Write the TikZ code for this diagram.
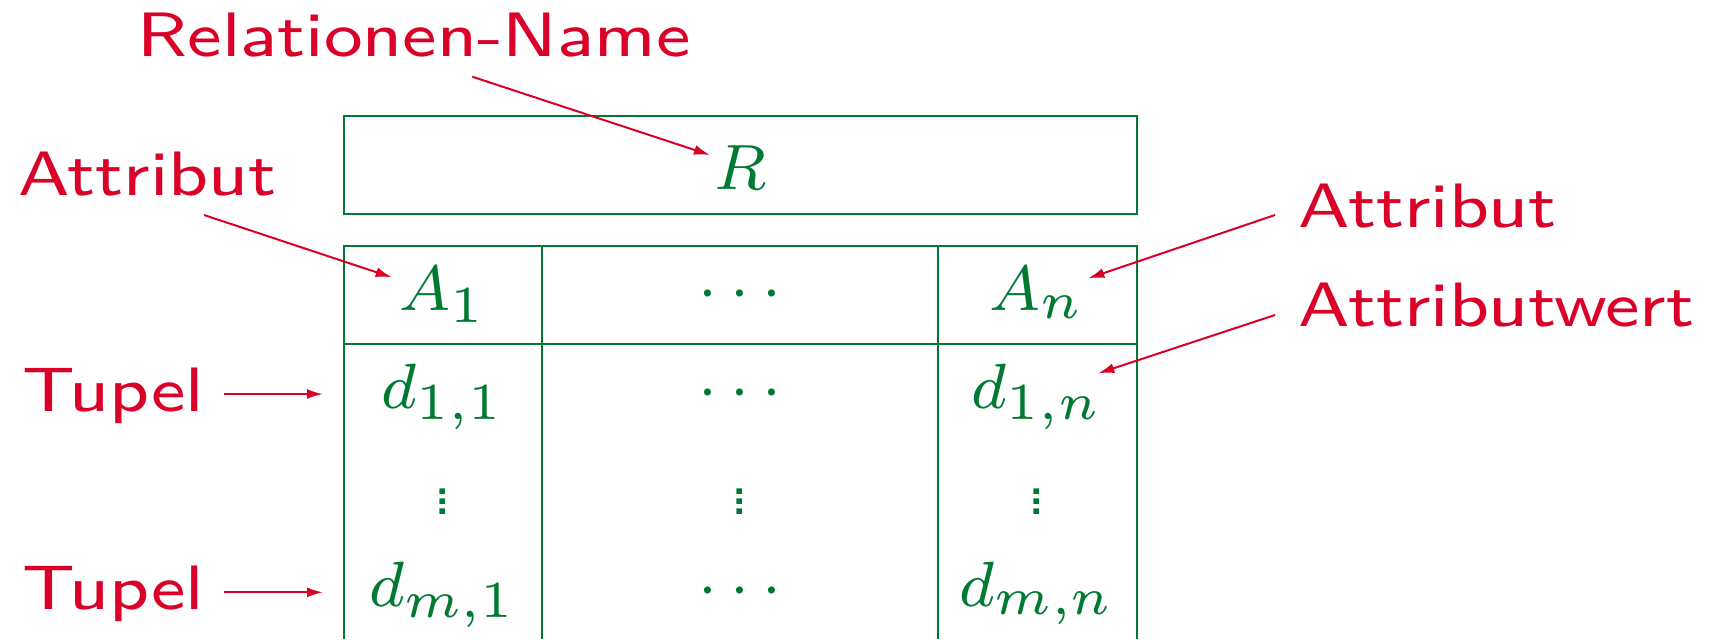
\RequirePackage{fix-cm}
\documentclass[tikz,border=0pt]{standalone}
\usetikzlibrary{arrows.meta}
\DeclareMathSizes{8}{8}{6.5}{5}
\definecolor{lblred}{RGB}{218,0,40}
\definecolor{tblgreen}{RGB}{0,122,51}
\newcommand{\hdots}{{\cdot}\mkern3.5mu{\cdot}\mkern3.5mu{\cdot}}
\newcommand{\sdots}{\sffamily\rlap{.}\rlap{\raisebox{1.31pt}{.}}\raisebox{2.62pt}{.}}
\begin{document}
\begin{tikzpicture}[x=0.5pt,y=-0.5pt,
  lbl/.style={text=lblred, font=\fontsize{8}{9.6}\sffamily\selectfont, xscale=4.55, yscale=3.92, inner sep=0, anchor=base west},
  cell/.style={text=tblgreen, font=\fontsize{8}{9.6}\selectfont, scale=4, inner sep=0, anchor=base},
  vd/.style={text=tblgreen, font=\fontsize{8}{9.6}\selectfont, scale=3.92, inner sep=0, anchor=center},
  tline/.style={draw=tblgreen, line width=1pt},
  ptr/.style={draw=lblred, line width=1pt, -{Latex[length=8pt,width=5pt]}}]
\useasboundingbox (0,0) rectangle (1710,639);
% table frame
\draw[tline] (343.5,115.8) rectangle (1136.5,214.3);
\draw[tline] (343.5,639) -- (343.5,245.7) -- (1136.5,245.7) -- (1136.5,639);
\draw[tline] (343.5,344) -- (1136.5,344);
\draw[tline] (542,245.7) -- (542,639);
\draw[tline] (938,245.7) -- (938,639);
% cells
\node[cell] (R) at (740,189.3) {$R$};
\node[cell] (a1) at (442.75,310.7) {$A_1$};
\node[cell] (ah) at (740,309.3) {$\hdots$};
\node[cell] (an) at (1037,310.7) {$A_n$};
\node[cell] (d11) at (442.75,408) {$d_{1,1}$};
\node[cell] (d1h) at (740,408) {$\hdots$};
\node[cell] (d1n) at (1037,408) {$d_{1,n}$};
\node[vd] (v1) at (442.75,501.7) {\sdots};
\node[vd] (v2) at (740,501.7) {\sdots};
\node[vd] (v3) at (1037,501.7) {\sdots};
\node[cell] (dm1) at (442.75,606) {$d_{m,1}$};
\node[cell] (dmh) at (740,606) {$\hdots$};
\node[cell] (dmn) at (1037,606) {$d_{m,n}$};
% labels
\node[lbl] (lrel) at (136,56.7) {Relationen-Name};
\node[lbl] (lattl) at (16.5,195) {Attribut};
\node[lbl] (lattr) at (1297,227.7) {Attribut};
\node[lbl] (lwert) at (1297,326.7) {Attributwert};
\node[lbl] (ltup1) at (21,411.7) {Tupel};
\node[lbl] (ltup2) at (21,609.3) {Tupel};
% arrow ends
\coordinate (relS) at (472.3,76.7);   \coordinate (relT) at (710,155);
\coordinate (alS) at (204,215);       \coordinate (alT) at (391.7,277.3);
\coordinate (arS) at (1275,215);      \coordinate (arT) at (1088.3,278.3);
\coordinate (awS) at (1275,315);      \coordinate (awT) at (1098.3,373.3);
\coordinate (t1S) at (224,394);       \coordinate (t1T) at (323,394);
\coordinate (t2S) at (224,592.3);     \coordinate (t2T) at (323,592.3);
\draw[ptr] (relS) -- (relT);
\draw[ptr] (alS) -- (alT);
\draw[ptr] (arS) -- (arT);
\draw[ptr] (awS) -- (awT);
\draw[ptr] (t1S) -- (t1T);
\draw[ptr] (t2S) -- (t2T);
\end{tikzpicture}
\end{document}
